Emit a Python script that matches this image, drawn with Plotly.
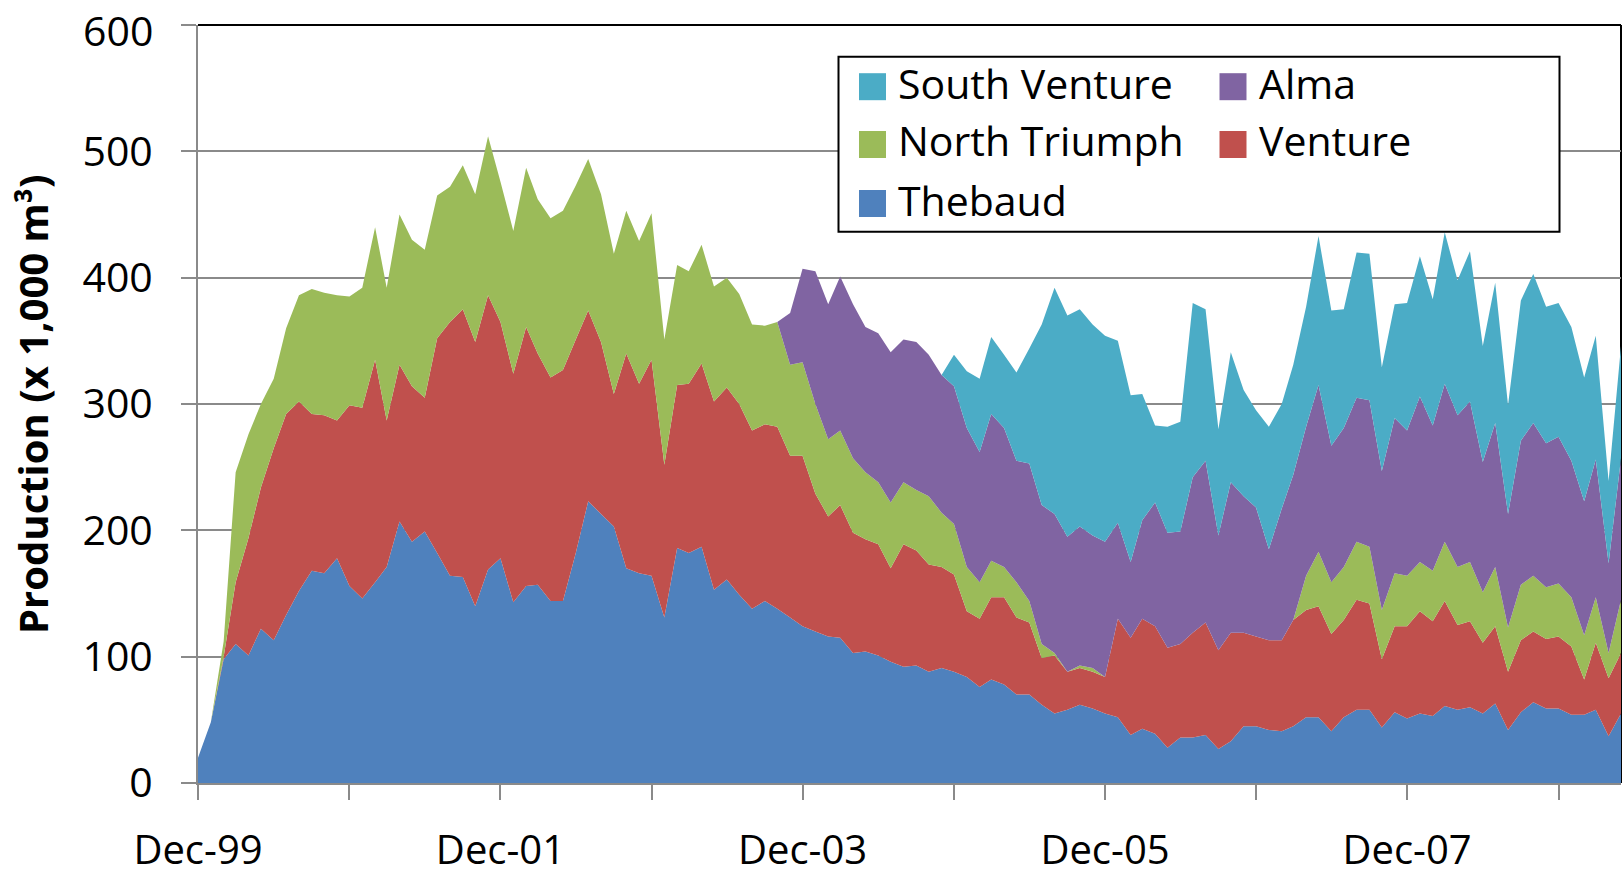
import plotly.graph_objects as go
import pandas as pd

# ---- data (x 1,000 m3 per month), Dec-1999 .. May-2009 ----
months = pd.date_range("1999-12-01", periods=114, freq="MS")

thebaud = [20, 48, 98, 110, 101, 122, 113, 133, 152, 168, 166, 178, 156, 146, 159, 171, 207, 191, 199, 182,
           164, 163, 140, 169, 178, 143, 156, 157, 144, 144,
           182, 223, 213, 203, 170, 166, 164, 131, 186, 182, 187, 153, 161, 149, 138, 144, 138, 131, 124, 120,
           116, 115, 103, 104, 101, 96, 92, 93, 88, 91,
           88, 84, 76, 82, 78, 70, 70, 62, 55, 58, 62, 59, 55, 52, 38, 43, 39, 28, 36, 36,
           38, 27, 33, 45, 45, 42, 41, 45,
           52, 52, 41, 52, 58, 58, 44, 56, 51, 55, 53, 61, 58, 60, 55, 63, 42, 56, 64, 59,
           59, 54, 54, 58, 37, 55]

venture = [0, 0, 2, 49, 93, 112, 152, 159, 150, 124, 125, 109, 143, 151, 176, 116, 124, 123, 106, 170,
           201, 212, 209, 217, 187, 181, 205, 183, 177, 183,
           169, 151, 136, 105, 170, 150, 171, 121, 129, 134, 145, 149, 152, 151, 141, 140, 144, 128, 135, 109,
           95, 105, 95, 89, 88, 74, 97, 91, 85, 80,
           77, 52, 54, 65, 69, 61, 57, 37, 46, 30, 29, 29, 29, 78, 77, 87, 85, 79, 74, 83,
           89, 78, 86, 74, 71, 71, 72, 84,
           85, 88, 77, 77, 87, 84, 54, 68, 73, 81, 75, 83, 67, 68, 56, 61, 46, 57, 56, 55,
           57, 54, 28, 53, 46, 48]

north_triumph = [0, 0, 12, 87, 82, 66, 55, 68, 84, 99, 97, 99, 86, 95, 105, 105, 119, 116, 117, 113,
                 107, 114, 117, 126, 111, 113, 126, 122, 126, 126,
                 122, 120, 117, 111, 113, 113, 116, 99, 95, 89, 94, 91, 87, 87, 84, 78, 83, 72, 74, 71,
                 61, 59, 59, 53, 49, 52, 49, 48, 54, 43,
                 40, 35, 29, 29, 24, 28, 17, 11, 2, 0, 2, 3, 0, 0, 0, 0, 0, 0, 0, 0,
                 0, 0, 0, 0, 0, 0, 0, 0,
                 27, 43, 41, 42, 46, 45, 39, 42, 40, 39, 40, 47, 46, 47, 40, 47, 35, 44, 44, 41,
                 42, 39, 35, 36, 20, 42]

alma = [0, 0, 0, 0, 0, 0, 0, 0, 0, 0, 0, 0, 0, 0, 0, 0, 0, 0, 0, 0,
        0, 0, 0, 0, 0, 0, 0, 0, 0, 0,
        0, 0, 0, 0, 0, 0, 0, 0, 0, 0, 0, 0, 0, 0, 0, 0, 0, 41, 74, 105,
        107, 122, 122, 115, 118, 119, 113, 117, 112, 109,
        109, 110, 103, 116, 110, 96, 109, 110, 110, 107, 110, 105, 107, 76, 60, 78, 98, 91, 89, 123,
        128, 91, 119, 108, 102, 72, 104, 115,
        118, 132, 108, 110, 114, 116, 110, 123, 115, 131, 115, 125, 120, 127, 103, 114, 90, 114, 121, 114,
        116, 108, 106, 109, 71, 112]

south_venture = [0, 0, 0, 0, 0, 0, 0, 0, 0, 0, 0, 0, 0, 0, 0, 0, 0, 0, 0, 0,
                 0, 0, 0, 0, 0, 0, 0, 0, 0, 0,
                 0, 0, 0, 0, 0, 0, 0, 0, 0, 0, 0, 0, 0, 0, 0, 0, 0, 0, 0, 0,
                 0, 0, 0, 0, 0, 0, 0, 0, 0, 0,
                 25, 45, 58, 61, 58, 70, 91, 143, 179, 175, 172, 167, 163, 144, 132, 100, 61, 84, 87, 138,
                 120, 84, 103, 84, 77, 97, 83, 87,
                 95, 118, 107, 94, 115, 116, 82, 90, 101, 111, 100, 120, 107, 119, 92, 111, 86, 111, 118, 108,
                 106, 106, 98, 98, 65, 89]

tick_dates = pd.date_range("1999-12-01", periods=10, freq="12MS")
tick_text = ["Dec-99", "", "Dec-01", "", "Dec-03", "", "Dec-05", "", "Dec-07", ""]
y_ticks = [0, 100, 200, 300, 400, 500, 600]
y_tick_text = ["0", "100", "200", "300", "400", "500", ""]   # top label drawn separately below
y_top_label = "600"

names = ["Thebaud", "Venture", "North Triumph", "Alma", "South Venture"]
colors = ["#4F81BD", "#C0504D", "#9BBB59", "#8064A2", "#4BACC6"]
values = [thebaud, venture, north_triumph, alma, south_venture]

# ---- layout geometry (pixels) ----
W, H = 1623, 880
ML, MR, MT, MB = 198, 2, 25, 97
PW, PH = W - ML - MR, H - MT - MB
GRAY = "#8a8a8a"
FONT = "Open Sans"


def px(xp):
    return (xp - ML) / PW


def py(yp):
    return (H - MB - yp) / PH


fig = go.Figure()
for name, vals, col in zip(names, values, colors):
    fig.add_trace(go.Scatter(x=months, y=vals, name=name, stackgroup="one", mode="none",
                             fillcolor=col, showlegend=False, hoverinfo="x+y+name"))

shapes = []
annotations = []

# plot-area border (top and right, black)
shapes.append(dict(type="line", xref="paper", yref="paper", x0=0, x1=1, y0=1, y1=1,
                   line=dict(color="black", width=2), layer="above"))
shapes.append(dict(type="line", xref="paper", yref="paper", x0=1, x1=1, y0=0, y1=1,
                   line=dict(color="black", width=2), layer="below"))

# legend box
shapes.append(dict(type="rect", xref="paper", yref="paper", x0=px(838.5), x1=px(1559.5),
                   y0=py(231.7), y1=py(56.7), line=dict(color="black", width=2),
                   fillcolor="white", layer="above"))

legend_items = [("South Venture", "#4BACC6", 859, 86.7), ("Alma", "#8064A2", 1219.5, 86.7),
                ("North Triumph", "#9BBB59", 859, 144.5), ("Venture", "#C0504D", 1219.5, 144.5),
                ("Thebaud", "#4F81BD", 859, 203.5)]
for label, col, sx, cy in legend_items:
    shapes.append(dict(type="rect", xref="paper", yref="paper", x0=px(sx), x1=px(sx + 27),
                       y0=py(cy + 13.5), y1=py(cy - 13.5), line=dict(width=0), fillcolor=col,
                       layer="above"))
    annotations.append(dict(xref="paper", yref="paper", x=px(sx + 37), y=py(cy - 4), text=label,
                            showarrow=False, xanchor="left", yanchor="middle",
                            font=dict(family=FONT, size=41, color="black")))

# top y tick label, kept inside the page
annotations.append(dict(xref="paper", yref="paper", x=px(155), y=py(0.5), text=y_top_label,
                        showarrow=False, xanchor="right", yanchor="top",
                        font=dict(family=FONT, size=41, color="black")))

# y axis title
annotations.append(dict(xref="paper", yref="paper", x=px(32), y=0.5, text="Production (x 1,000 m³)",
                        textangle=-90, showarrow=False, xanchor="center", yanchor="middle",
                        font=dict(family=FONT, size=40, color="black", weight="bold")))

fig.update_layout(
    width=W, height=H,
    margin=dict(l=ML, r=MR, t=MT, b=MB, pad=0, autoexpand=False),
    paper_bgcolor="white", plot_bgcolor="white",
    showlegend=False,
    shapes=shapes, annotations=annotations,
    font=dict(family=FONT, color="black"),
    xaxis=dict(type="date", range=[months[0], months[-1]], tickvals=tick_dates, ticktext=tick_text,
               ticks="outside", ticklen=15, tickwidth=2, tickcolor=GRAY, automargin=False,
               showline=True, linecolor=GRAY, linewidth=2, showgrid=False, zeroline=False,
               tickfont=dict(family=FONT, size=40, color="black"), ticklabelstandoff=16,
               ticklabeloverflow="allow"),
    yaxis=dict(range=[0, 600], tickvals=y_ticks, ticktext=y_tick_text, ticks="outside", ticklen=15,
               tickwidth=2, tickcolor=GRAY, showline=True, linecolor=GRAY, linewidth=2, automargin=False,
               showgrid=True, gridcolor=GRAY, gridwidth=1.5, zeroline=False,
               tickfont=dict(family=FONT, size=41, color="black"), ticklabelstandoff=20,
               ticklabeloverflow="allow"),
)

fig.write_html("out.html", config={"displayModeBar": False},
               post_script="document.body.style.margin='0';document.body.style.overflow='hidden';")
